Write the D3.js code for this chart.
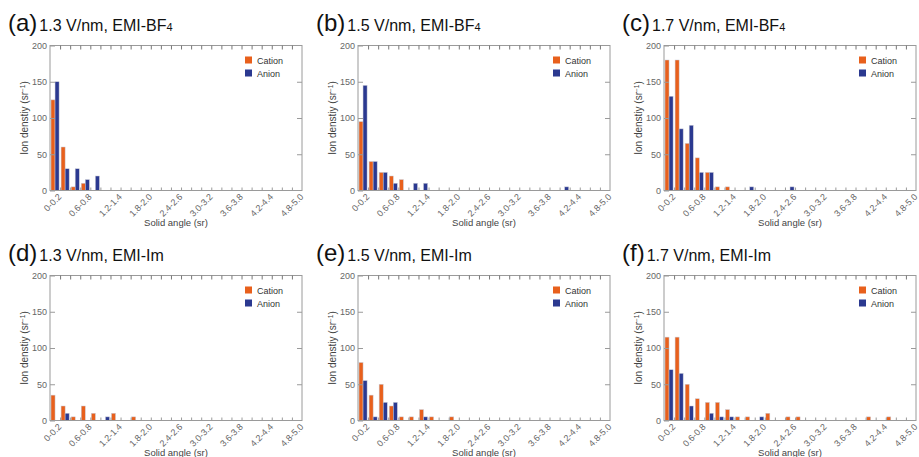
<!DOCTYPE html>
<html>
<head>
<meta charset="utf-8">
<script src="https://cdn.jsdelivr.net/npm/d3@7"></script>
<style>
  body { margin: 0; background: #fff; }
  svg { display: block; }
</style>
</head>
<body>
<svg id="chart" width="919" height="457"></svg>
<script>
// solid angle bins (sr)
const bins = ["0-0.2", "0.2-0.4", "0.4-0.6", "0.6-0.8", "0.8-1.0", "1.0-1.2", "1.2-1.4", "1.4-1.6",
  "1.6-1.8", "1.8-2.0", "2.0-2.2", "2.2-2.4", "2.4-2.6", "2.6-2.8", "2.8-3.0", "3.0-3.2", "3.2-3.4",
  "3.4-3.6", "3.6-3.8", "3.8-4.0", "4.0-4.2", "4.2-4.4", "4.4-4.6", "4.6-4.8", "4.8-5.0"];
const labelBins = ["0-0.2", "0.6-0.8", "1.2-1.4", "1.8-2.0", "2.4-2.6", "3.0-3.2", "3.6-3.8", "4.2-4.4", "4.8-5.0"];
const yTicks = [0, 50, 100, 150, 200];
const series = ["Cation", "Anion"];
const colors = ["#e8601c", "#2b3990"];

const letters = ["(a)", "(b)", "(c)", "(d)", "(e)", "(f)"];
const titles = ["1.3 V/nm, EMI-BF", "1.5 V/nm, EMI-BF", "1.7 V/nm, EMI-BF",
  "1.3 V/nm, EMI-Im", "1.5 V/nm, EMI-Im", "1.7 V/nm, EMI-Im"];
const titleSubs = ["4", "4", "4", "", "", ""];

// ion density (sr^-1), one value per bin
const cationA = [125, 60, 5, 10, 0, 0, 0, 0, 0, 0, 0, 0, 0, 0, 0, 0, 0, 0, 0, 0, 0, 0, 0, 0, 0];
const anionA  = [150, 30, 30, 15, 20, 0, 0, 0, 0, 0, 0, 0, 0, 0, 0, 0, 0, 0, 0, 0, 0, 0, 0, 0, 0];
const cationB = [95, 40, 25, 20, 15, 0, 0, 0, 0, 0, 0, 0, 0, 0, 0, 0, 0, 0, 0, 0, 0, 0, 0, 0, 0];
const anionB  = [145, 40, 25, 10, 0, 10, 10, 0, 0, 0, 0, 0, 0, 0, 0, 0, 0, 0, 0, 0, 5, 0, 0, 0, 0];
const cationC = [180, 180, 65, 45, 25, 5, 5, 0, 0, 0, 0, 0, 0, 0, 0, 0, 0, 0, 0, 0, 0, 0, 0, 0, 0];
const anionC  = [130, 85, 90, 25, 25, 0, 0, 0, 5, 0, 0, 0, 5, 0, 0, 0, 0, 0, 0, 0, 0, 0, 0, 0, 0];
const cationD = [35, 20, 5, 20, 10, 0, 10, 0, 5, 0, 0, 0, 0, 0, 0, 0, 0, 0, 0, 0, 0, 0, 0, 0, 0];
const anionD  = [0, 10, 0, 0, 0, 5, 0, 0, 0, 0, 0, 0, 0, 0, 0, 0, 0, 0, 0, 0, 0, 0, 0, 0, 0];
const cationE = [80, 35, 50, 20, 5, 5, 15, 5, 0, 5, 0, 0, 0, 0, 0, 0, 0, 0, 0, 0, 0, 0, 0, 0, 0];
const anionE  = [55, 5, 25, 25, 0, 0, 5, 0, 0, 0, 0, 0, 0, 0, 0, 0, 0, 0, 0, 0, 0, 0, 0, 0, 0];
const cationF = [115, 115, 50, 30, 25, 25, 15, 5, 5, 0, 10, 0, 5, 5, 0, 0, 0, 0, 0, 0, 5, 0, 5, 0, 0];
const anionF  = [70, 65, 20, 0, 10, 5, 5, 0, 0, 5, 0, 0, 0, 0, 0, 0, 0, 0, 0, 0, 0, 0, 0, 0, 0];

const panelData = [
  [cationA, anionA], [cationB, anionB], [cationC, anionC],
  [cationD, anionD], [cationE, anionE], [cationF, anionF]
];

const svg = d3.select("#chart");
const W = 252, H = 145;
const colLeft = [50, 358, 664];
const rowTop = [45.5, 275.5];
const sans = "'Liberation Sans', Arial, Helvetica, sans-serif";
const narrow = "'Liberation Sans Narrow', 'Arial Narrow', 'Liberation Sans', sans-serif";

const x = d3.scaleBand().domain(bins).range([0, W]).padding(0);
const xs = d3.scaleBand().domain(series).range([1, x.bandwidth() - 1]);
const xEdge = d3.scaleLinear().domain([0, bins.length]).range([0, W]);
const y = d3.scaleLinear().domain([0, 200]).range([H, 0]);
const edges = d3.range(1, bins.length);

panelData.forEach((vals, i) => {
  const left = colLeft[i % 3], top = rowTop[Math.floor(i / 3)];
  const g = svg.append("g").attr("transform", `translate(${left},${top})`);

  // title
  const t = g.append("text")
    .attr("x", -42).attr("y", -14.5)
    .attr("font-family", sans).attr("fill", "#111");
  t.append("tspan").attr("font-size", "24px").text(letters[i]);
  t.append("tspan").attr("font-size", "16px").attr("dx", 2).text(titles[i]);
  if (titleSubs[i]) t.append("tspan").attr("font-size", "11px").text(titleSubs[i]);

  // bars
  series.forEach((s, k) => {
    g.append("g").selectAll("rect")
      .data(vals[k].map((v, j) => ({ bin: bins[j], v })).filter(d => d.v > 0))
      .join("rect")
      .attr("x", d => x(d.bin) + xs(s))
      .attr("y", d => y(d.v))
      .attr("width", xs.bandwidth())
      .attr("height", d => H - y(d.v))
      .attr("fill", colors[k])
      .attr("stroke", "#c9cbd6")
      .attr("stroke-width", 0.5);
  });

  // frame
  g.append("rect").attr("width", W).attr("height", H)
    .attr("fill", "none").attr("stroke", "#9a9a9a").attr("stroke-width", 1);

  // left axis (ticks inward)
  const yAx = g.append("g")
    .call(d3.axisLeft(y).tickValues(yTicks).tickSizeInner(-5).tickSizeOuter(0).tickPadding(3));
  yAx.select(".domain").remove();
  yAx.selectAll("line").attr("stroke", "#9a9a9a");
  yAx.selectAll("text").attr("font-family", sans).attr("font-size", "9px").attr("fill", "#666");

  // right axis
  const yR = g.append("g").attr("transform", `translate(${W},0)`)
    .call(d3.axisRight(y).tickValues(yTicks.slice(1, -1)).tickSizeInner(-5).tickSizeOuter(0).tickFormat(""));
  yR.select(".domain").remove();
  yR.selectAll("line").attr("stroke", "#9a9a9a");

  // top and bottom bin ticks
  const xT = g.append("g")
    .call(d3.axisTop(xEdge).tickValues(edges).tickSizeInner(-4).tickSizeOuter(0).tickFormat(""));
  xT.select(".domain").remove();
  xT.selectAll("line").attr("stroke", "#777");
  const xB = g.append("g").attr("transform", `translate(0,${H})`)
    .call(d3.axisBottom(xEdge).tickValues(edges).tickSizeInner(-3).tickSizeOuter(0).tickFormat(""));
  xB.select(".domain").remove();
  xB.selectAll("line").attr("stroke", "#9a9a9a");

  // rotated bin labels
  g.append("g").selectAll("text")
    .data(labelBins)
    .join("text")
    .attr("transform", d => `translate(${x(d) + x.bandwidth() / 2 + 7},${H + 7}) rotate(-45)`)
    .attr("text-anchor", "end")
    .attr("font-family", sans).attr("font-size", "9px").attr("fill", "#666")
    .text(d => d);

  // axis titles
  g.append("text")
    .attr("x", W / 2).attr("y", H + 35.5)
    .attr("text-anchor", "middle")
    .attr("font-family", narrow).attr("font-size", "9.5px").attr("fill", "#444")
    .text("Solid angle (sr)");
  const yl = g.append("text")
    .attr("transform", `translate(-22,${H / 2}) rotate(-90)`)
    .attr("text-anchor", "middle")
    .attr("font-family", narrow).attr("font-size", "10px").attr("fill", "#444");
  yl.append("tspan").text("Ion denstiy (sr");
  yl.append("tspan").attr("font-size", "6.5px").attr("dy", -3.5).text("\u22121");
  yl.append("tspan").attr("dy", 3.5).text(")");

  // legend
  const lg = g.append("g").attr("transform", `translate(${W - 57},11)`);
  series.forEach((s, k) => {
    lg.append("rect").attr("x", 0).attr("y", k * 13).attr("width", 7).attr("height", 7)
      .attr("fill", colors[k]);
    lg.append("text").attr("x", 12).attr("y", k * 13 + 7)
      .attr("font-family", narrow).attr("font-size", "9px").attr("fill", "#333")
      .text(s);
  });
});
</script>
</body>
</html>
